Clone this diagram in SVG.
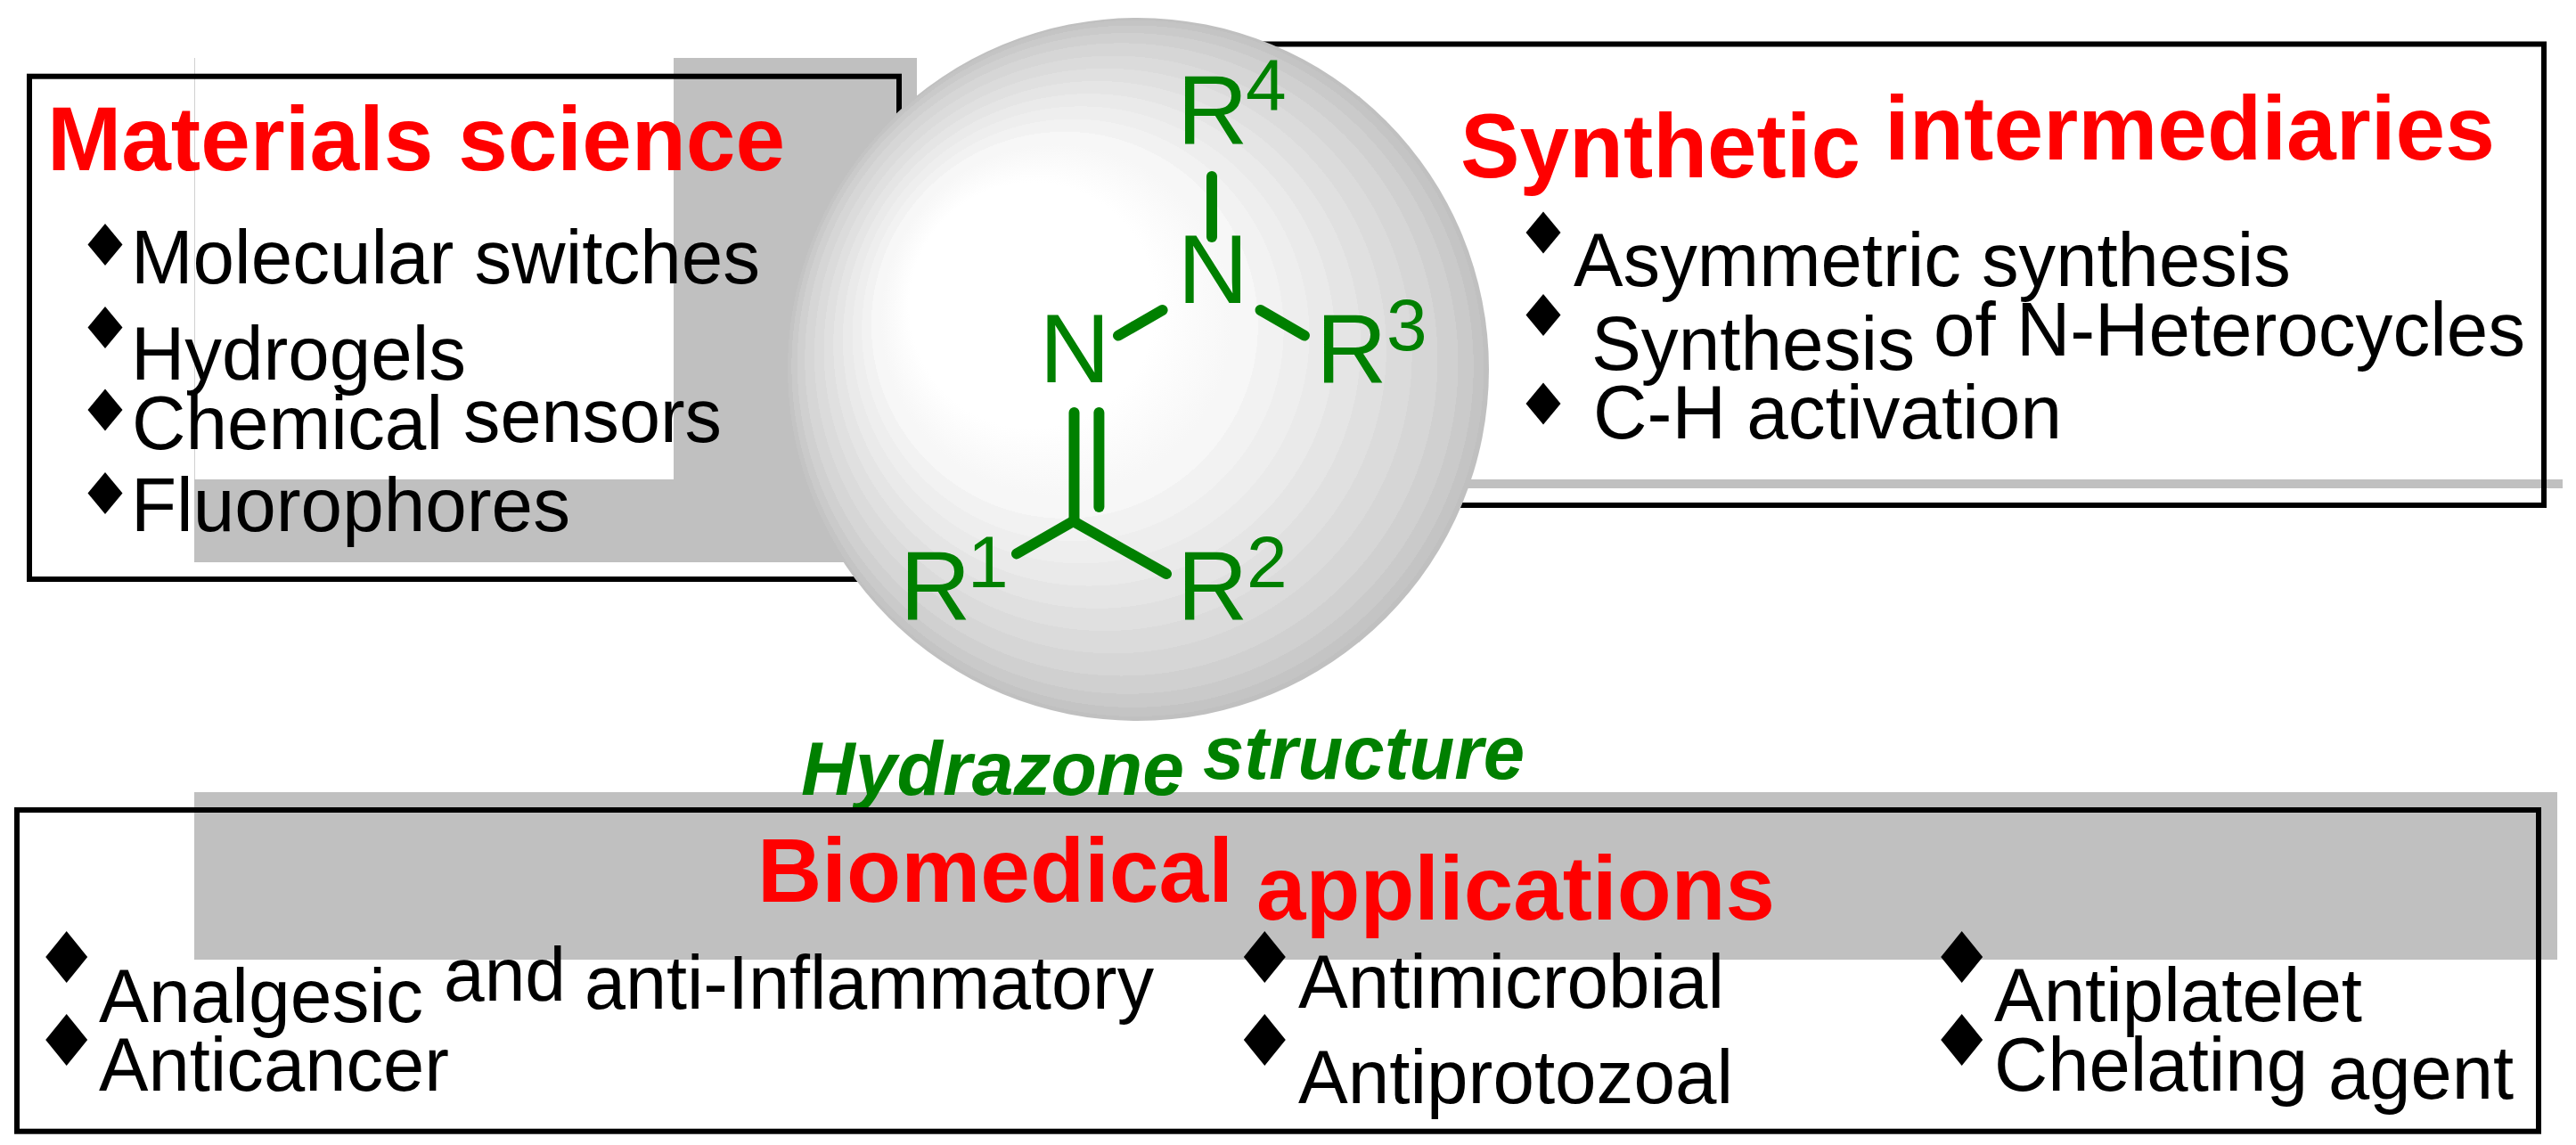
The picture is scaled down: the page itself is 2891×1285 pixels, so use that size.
<svg xmlns="http://www.w3.org/2000/svg" width="2891" height="1285" viewBox="0 0 2891 1285">
<style>
text{font-family:"Liberation Sans",Arial,sans-serif}
.h{font-weight:bold;font-size:102px;fill:#f00}
.b{font-size:86px;fill:#000}
.g{font-size:110px;fill:#008000}
.s{font-size:82px;fill:#008000}
.i{font-weight:bold;font-style:italic;font-size:86px;fill:#008000}
.box{fill:none;stroke:#000;stroke-width:6}
.grey{fill:#c0c0c0}
.bond{stroke:#008000;stroke-width:12;fill:none;stroke-linecap:round;stroke-linejoin:miter}
</style>
<defs>
<radialGradient id="sph" cx="0.5" cy="0.5" r="0.5" fx="0.27" fy="0.36">
<stop offset="0" stop-color="#fff"/><stop offset="0.35" stop-color="#fff"/><stop offset="0.5" stop-color="#f7f7f7"/>
<stop offset="0.55" stop-color="#f7f7f7"/><stop offset="0.55" stop-color="#f2f2f2"/>
<stop offset="0.6" stop-color="#f2f2f2"/><stop offset="0.6" stop-color="#eeeeee"/>
<stop offset="0.65" stop-color="#eeeeee"/><stop offset="0.65" stop-color="#eaeaea"/>
<stop offset="0.7" stop-color="#eaeaea"/><stop offset="0.7" stop-color="#e5e5e5"/>
<stop offset="0.75" stop-color="#e5e5e5"/><stop offset="0.75" stop-color="#e0e0e0"/>
<stop offset="0.8" stop-color="#e0e0e0"/><stop offset="0.8" stop-color="#dbdbdb"/>
<stop offset="0.85" stop-color="#dbdbdb"/><stop offset="0.85" stop-color="#d6d6d6"/>
<stop offset="0.9" stop-color="#d6d6d6"/><stop offset="0.9" stop-color="#d0d0d0"/>
<stop offset="0.94" stop-color="#d0d0d0"/><stop offset="0.94" stop-color="#cacaca"/>
<stop offset="0.97" stop-color="#cacaca"/><stop offset="0.97" stop-color="#c4c4c4"/>
<stop offset="0.99" stop-color="#c4c4c4"/><stop offset="0.99" stop-color="#c0c0c0"/>
<stop offset="1" stop-color="#c0c0c0"/>
</radialGradient>
<polygon id="d1" points="0,-23.5 19.5,0 0,23.5 -19.5,0" fill="#000"/>
<polygon id="d2" points="0,-29 23.5,0 0,29 -23.5,0" fill="#000"/>
</defs>
<rect width="2891" height="1285" fill="#fff"/>
<g id="backdrop">
<rect class="grey" x="218" y="65" width="811" height="566"/>
<rect x="218" y="65" width="538" height="473" fill="#fff"/>
<rect x="218" y="65" width="1" height="473" fill="#d0d0d0"/>
<rect class="grey" x="1500" y="538" width="1376" height="10"/>
<rect class="grey" x="218" y="889" width="2652" height="188"/>
</g>
<g id="caption">
<text class="i" x="899" y="891.5" textLength="430" lengthAdjust="spacingAndGlyphs">Hydrazone</text>
<text class="i" x="1350" y="874" textLength="361" lengthAdjust="spacingAndGlyphs">structure</text>
</g>
<g id="materials">
<rect class="box" x="33" y="85.7" width="976" height="564.3"/>
<text class="h" x="53" y="191" textLength="828" lengthAdjust="spacingAndGlyphs">Materials science</text>
<use href="#d1" x="118" y="274.5"/><use href="#d1" x="118" y="367.5"/><use href="#d1" x="118" y="460"/><use href="#d1" x="118" y="553.5"/>
<text class="b" x="147" y="318" textLength="706" lengthAdjust="spacingAndGlyphs">Molecular switches</text>
<text class="b" x="147" y="426" textLength="376" lengthAdjust="spacingAndGlyphs">Hydrogels</text>
<text class="b" x="148" y="504" textLength="349" lengthAdjust="spacingAndGlyphs">Chemical</text>
<text class="b" x="520" y="496" textLength="290" lengthAdjust="spacingAndGlyphs">sensors</text>
<text class="b" x="147" y="596" textLength="493" lengthAdjust="spacingAndGlyphs">Fluorophores</text>
</g>
<g id="synthetic">
<rect class="box" x="1400" y="49.5" width="1455" height="517.5"/>
<text class="h" x="1639" y="199" textLength="449" lengthAdjust="spacingAndGlyphs">Synthetic</text>
<text class="h" x="2115" y="178.5" textLength="685" lengthAdjust="spacingAndGlyphs">intermediaries</text>
<use href="#d1" x="1732" y="261"/><use href="#d1" x="1732" y="353.5"/><use href="#d1" x="1732" y="453"/>
<text class="b" x="1766" y="321" textLength="805" lengthAdjust="spacingAndGlyphs">Asymmetric synthesis</text>
<text class="b" x="1786" y="415" textLength="363" lengthAdjust="spacingAndGlyphs">Synthesis</text>
<text class="b" x="2170" y="399" textLength="664" lengthAdjust="spacingAndGlyphs">of N-Heterocycles</text>
<text class="b" x="1788" y="492" textLength="526" lengthAdjust="spacingAndGlyphs">C-H activation</text>
</g>
<g id="biomedical">
<rect class="box" x="19" y="909" width="2830" height="360.7"/>
<text class="h" x="850" y="1012" textLength="534" lengthAdjust="spacingAndGlyphs">Biomedical</text>
<text class="h" x="1410" y="1031.5" textLength="582" lengthAdjust="spacingAndGlyphs">applications</text>
<use href="#d2" x="74.7" y="1074"/><use href="#d2" x="74.7" y="1167"/><use href="#d2" x="1419.3" y="1074"/><use href="#d2" x="1419.3" y="1167"/><use href="#d2" x="2201.7" y="1074"/><use href="#d2" x="2201.7" y="1167"/>
<text class="b" x="111" y="1146.5" textLength="364" lengthAdjust="spacingAndGlyphs">Analgesic</text>
<text class="b" x="498" y="1122.5" textLength="137" lengthAdjust="spacingAndGlyphs">and</text>
<text class="b" x="656" y="1131.5" textLength="639" lengthAdjust="spacingAndGlyphs">anti-Inflammatory</text>
<text class="b" x="111" y="1224" textLength="393" lengthAdjust="spacingAndGlyphs">Anticancer</text>
<text class="b" x="1457" y="1130.5" textLength="478" lengthAdjust="spacingAndGlyphs">Antimicrobial</text>
<text class="b" x="1457" y="1238" textLength="488" lengthAdjust="spacingAndGlyphs">Antiprotozoal</text>
<text class="b" x="2238" y="1146" textLength="413" lengthAdjust="spacingAndGlyphs">Antiplatelet</text>
<text class="b" x="2238" y="1224" textLength="352" lengthAdjust="spacingAndGlyphs">Chelating</text>
<text class="b" x="2613" y="1233" textLength="208" lengthAdjust="spacingAndGlyphs">agent</text>
</g>
<g id="hydrazone">
<circle cx="1276.5" cy="414.5" r="394.5" fill="url(#sph)"/>
<g id="connectors">
<path class="bond" d="M1360 198V266"/>
<path class="bond" d="M1304.6 348L1255 376.6"/>
<path class="bond" d="M1414.5 348L1464 376.6"/>
<path class="bond" d="M1205.5 463V585"/>
<path class="bond" d="M1233.4 463V569"/>
<path class="bond" d="M1141 621.4L1204.5 585L1309 644"/>
</g>
<text class="g" x="1321" y="160.5">R</text>
<text class="s" x="1398" y="124">4</text>
<text class="g" x="1321.5" y="340">N</text>
<text class="g" x="1166.5" y="428.5">N</text>
<text class="g" x="1477" y="428.5">R</text>
<text class="s" x="1556" y="392.5">3</text>
<text class="g" x="1010" y="695">R</text>
<text class="s" x="1086" y="659">1</text>
<text class="g" x="1321" y="695">R</text>
<text class="s" x="1399" y="659">2</text>
</g>
</svg>
